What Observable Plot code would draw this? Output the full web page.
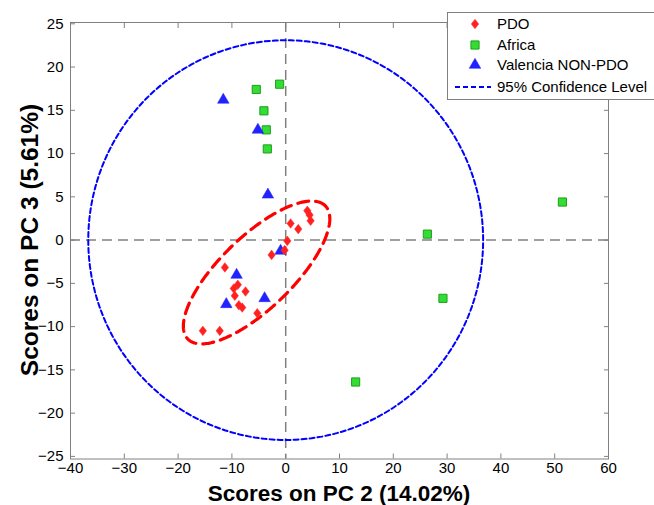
<!DOCTYPE html>
<html>
<head>
<meta charset="utf-8">
<script src="https://cdn.jsdelivr.net/npm/d3@7"></script>
<script src="https://cdn.jsdelivr.net/npm/@observablehq/plot@0.6"></script>
<style>
  html, body { margin: 0; padding: 0; background: #fff; }
  #chart { width: 654px; height: 505px; }
  svg { font-family: "Liberation Sans", Arial, sans-serif; }
</style>
</head>
<body>
<div id="chart"></div>
<script>
// ---- data ----
const pdoX = [4.02, 4.44, 4.63, 0.91, 2.33, 0.30, -0.20, -2.62, -11.3, -8.90, -9.65, -7.47, -9.46, -8.71, -8.08, -5.28, -15.4, -12.26];
const pdoY = [3.39, 2.90, 2.23, 1.92, 1.27, -0.09, -1.16, -1.71, -3.16, -5.17, -5.59, -5.94, -6.44, -7.52, -7.80, -8.45, -10.49, -10.49];

const africaX = [-5.47, -1.13, -4.05, -3.61, -3.42, 51.43, 26.33, 29.23, 13.0];
const africaY = [17.41, 18.02, 14.94, 12.74, 10.54, 4.40, 0.69, -6.73, -16.4];

const valenciaX = [-11.6, -5.17, -3.31, -0.95, -9.13, -3.92, -11.04];
const valenciaY = [16.2, 12.74, 5.24, -1.25, -4.03, -6.73, -7.42];

// 95% confidence level ellipse (semi-axes)
const confRx = 36.7;
const confRy = 23.1;
// PDO cluster ellipse: centre, half major-axis vector, half minor-axis vector
const pdoCentre = [-5.41, -3.74];
const pdoMajor = [12.79, 7.69];
const pdoMinor = [-4.65, 3.0];

const xTicks = [-40, -30, -20, -10, 0, 10, 20, 30, 40, 50, 60];
const yTicks = [-25, -20, -15, -10, -5, 0, 5, 10, 15, 20, 25];

const legendLabels = ["PDO", "Africa", "Valencia NON-PDO", "95% Confidence Level"];

// ---- derived tables ----
const pdo = pdoX.map((x, i) => ({x, y: pdoY[i]}));
const africa = africaX.map((x, i) => ({x, y: africaY[i]}));
const valencia = valenciaX.map((x, i) => ({x, y: valenciaY[i]}));

const N = 240;
const angles = d3.range(N + 1).map(i => (i / N) * 2 * Math.PI);
const confEllipse = angles.map(t => ({x: confRx * Math.cos(t), y: confRy * Math.sin(t)}));
const pdoEllipse = angles.map(t => ({
  x: pdoCentre[0] + pdoMajor[0] * Math.cos(t) + pdoMinor[0] * Math.sin(t),
  y: pdoCentre[1] + pdoMajor[1] * Math.cos(t) + pdoMinor[1] * Math.sin(t)
}));

// MATLAB-like diamond (wider than d3's)
const wideDiamond = {
  draw(context, size) {
    const h = Math.sqrt(size / 1.5);
    const w = 0.78 * h;
    context.moveTo(0, -h);
    context.lineTo(w, 0);
    context.lineTo(0, h);
    context.lineTo(-w, 0);
    context.closePath();
  }
};

const fmt = d => (d < 0 ? "\u2212" + Math.abs(d) : String(d));
const frameColor = "#808080";

const plot = Plot.plot({
  width: 654,
  height: 505,
  marginLeft: 70,
  marginRight: 46,
  marginTop: 22,
  marginBottom: 46.5,
  style: {fontFamily: "'Liberation Sans', Arial, sans-serif", fontSize: "15px", background: "#fff", color: "#000"},
  x: {domain: [-40, 60], ticks: xTicks, label: null},
  y: {domain: [-25.3, 25.15], ticks: yTicks, label: null},
  marks: [
    Plot.ruleX([0], {stroke: "#808080", strokeWidth: 1.5, strokeDasharray: "10,6"}),
    Plot.ruleY([0], {stroke: "#808080", strokeWidth: 1.5, strokeDasharray: "10,6"}),
    Plot.line(confEllipse, {x: "x", y: "y", stroke: "#0000ff", strokeWidth: 2, strokeDasharray: "5,3"}),
    Plot.line(pdoEllipse, {x: "x", y: "y", stroke: "#ff0000", strokeWidth: 3.2, strokeDasharray: "11,7"}),
    Plot.dot(africa, {x: "x", y: "y", symbol: "square", r: 4.6, fill: "#33dd33", stroke: "#1e9e1e", strokeWidth: 1}),
    Plot.dot(valencia, {x: "x", y: "y", symbol: "triangle", r: 4.3, fill: "#2222ff", stroke: "#2222ff", strokeWidth: 0.5}),
    Plot.dot(pdo, {x: "x", y: "y", symbol: wideDiamond, r: 3.3, fill: "#ff2020", stroke: "#ff3333", strokeWidth: 0.5}),
    Plot.frame({stroke: frameColor, strokeWidth: 1}),
    // tick labels
    Plot.axisX(xTicks, {anchor: "bottom", tickSize: 0, tickPadding: 3, tickFormat: fmt, fontSize: 15, label: null}),
    Plot.axisY(yTicks, {anchor: "left", tickSize: 0, tickPadding: 7, tickFormat: fmt, fontSize: 15, label: null}),
    // inward ticks on all four sides
    Plot.axisX(xTicks, {anchor: "bottom", tickSize: -5, text: null, stroke: frameColor, label: null}),
    Plot.axisX(xTicks, {anchor: "top", tickSize: -5, text: null, stroke: frameColor, label: null}),
    Plot.axisY(yTicks, {anchor: "left", tickSize: -5, text: null, stroke: frameColor, label: null}),
    Plot.axisY(yTicks, {anchor: "right", tickSize: -5, text: null, stroke: frameColor, label: null})
  ]
});

document.getElementById("chart").appendChild(plot);

// axis titles and legend
const svg = d3.select(plot);
svg.append("text")
  .attr("x", 339).attr("y", 501)
  .attr("text-anchor", "middle")
  .attr("font-size", 22.5).attr("font-weight", "bold").attr("fill", "#000")
  .text("Scores on PC 2 (14.02%)");
svg.append("text")
  .attr("transform", "translate(38,240) rotate(-90)")
  .attr("text-anchor", "middle")
  .attr("font-size", 24.5).attr("font-weight", "bold").attr("fill", "#000")
  .text("Scores on PC 3 (5.61%)");

const lg = svg.append("g").attr("font-size", 15).attr("fill", "#000").attr("text-anchor", "start");
lg.append("rect").attr("x", 447.5).attr("y", 12.5).attr("width", 230).attr("height", 87)
  .attr("fill", "#fff").attr("stroke", frameColor);
const rowY = [24, 45, 65, 87];
const sym = [wideDiamond, d3.symbolSquare, d3.symbolTriangle];
const symFill = ["#ff2020", "#33dd33", "#2222ff"];
const symStroke = ["#ff3333", "#1e9e1e", "#2222ff"];
const symR = [3.3, 4.6, 4.3];
sym.forEach((s, i) => {
  lg.append("path")
    .attr("transform", `translate(475,${rowY[i]})`)
    .attr("d", d3.symbol(s, Math.PI * symR[i] * symR[i])())
    .attr("fill", symFill[i]).attr("stroke", symStroke[i]).attr("stroke-width", i === 1 ? 1 : 0.5);
});
lg.append("line").attr("x1", 455).attr("x2", 491).attr("y1", rowY[3]).attr("y2", rowY[3])
  .attr("stroke", "#0000ff").attr("stroke-width", 2).attr("stroke-dasharray", "5,3");
legendLabels.forEach((t, i) => {
  lg.append("text").attr("x", 497).attr("y", rowY[i]).attr("dy", "0.36em").attr("text-anchor", "start").text(t);
});
</script>
</body>
</html>
